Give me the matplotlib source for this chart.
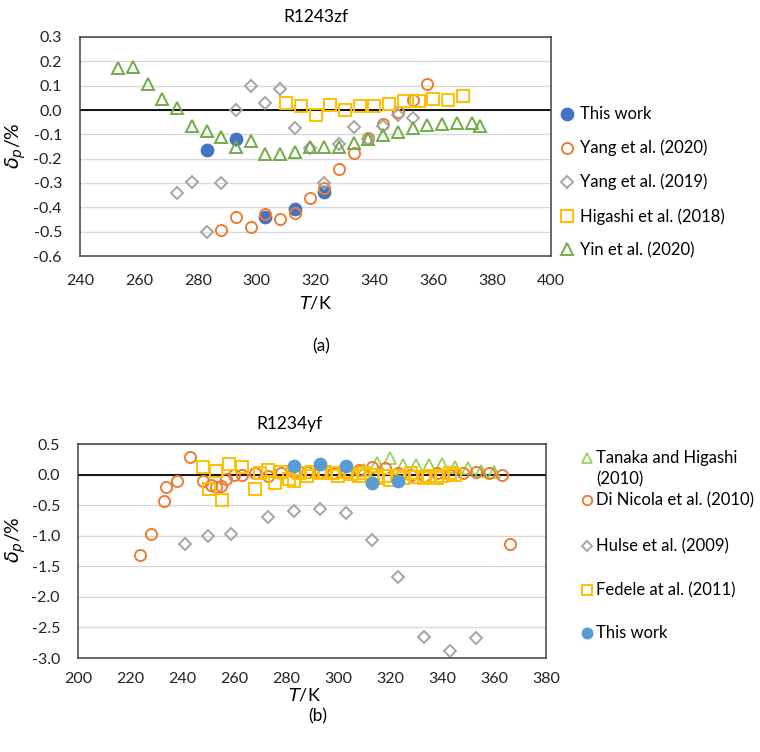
import numpy as np
import matplotlib
matplotlib.use('Agg')
import matplotlib.pyplot as plt
from matplotlib.lines import Line2D
from matplotlib.ticker import FormatStrFormatter, MultipleLocator

plt.rcParams['font.family'] = ['Lato', 'DejaVu Sans']
plt.rcParams['axes.unicode_minus'] = False
plt.rcParams['mathtext.fontset'] = 'dejavusans'

# ---- (a) R1243zf ----
a_this_T = [283, 293, 303, 313, 323]
a_this_d = [-0.163, -0.118, -0.44, -0.408, -0.338]

a_yang20_T = [288, 293, 298, 303, 308, 313, 318, 323, 328, 333, 338, 343, 348, 353, 358]
a_yang20_d = [-0.494, -0.441, -0.481, -0.428, -0.448, -0.425, -0.36, -0.319, -0.243,
              -0.175, -0.115, -0.056, -0.01, 0.043, 0.105]

a_yang19_T = [273, 278, 283, 288, 293, 298, 303, 308, 313, 318, 323, 328, 333, 338, 343, 348, 353]
a_yang19_d = [-0.342, -0.295, -0.502, -0.302, 0.002, 0.098, 0.03, 0.085, -0.075, -0.156,
              -0.298, -0.14, -0.069, -0.12, -0.067, -0.019, -0.032]

a_higashi_T = [310, 315, 320, 325, 330, 335, 340, 345, 350, 355, 360, 365, 370]
a_higashi_d = [0.03, 0.016, -0.019, 0.019, 0.002, 0.016, 0.016, 0.023, 0.038, 0.039,
               0.046, 0.043, 0.057]

a_yin_T = [253, 258, 263, 268, 273, 278, 283, 288, 293, 298, 303, 308, 313, 318, 323,
           328, 333, 338, 343, 348, 353, 358, 363, 368, 373, 376]
a_yin_d = [0.171, 0.178, 0.105, 0.046, 0.01, -0.067, -0.088, -0.112, -0.15, -0.126, -0.18,
           -0.181, -0.174, -0.152, -0.152, -0.15, -0.136, -0.118, -0.101, -0.092, -0.076,
           -0.063, -0.057, -0.053, -0.053, -0.067]

# ---- (b) R1234yf ----
b_tanaka_T = [310, 315, 320, 325, 330, 335, 340, 345, 350, 355, 360]
b_tanaka_d = [0.08, 0.19, 0.27, 0.16, 0.16, 0.16, 0.18, 0.12, 0.10, 0.06, 0.04]

b_dinicola_T = [224, 228, 233, 234, 238, 243, 248, 251, 253, 255, 257, 260, 263, 268, 273,
                278, 283, 288, 293, 298, 303, 308, 313, 318, 323, 328, 333, 338, 343, 348,
                353, 358, 363, 366]
b_dinicola_d = [-1.31, -0.97, -0.44, -0.21, -0.10, 0.28, -0.10, -0.17, -0.21, -0.19, -0.08,
                -0.01, 0.00, 0.02, -0.02, 0.02, 0.05, 0.05, 0.05, 0.03, 0.05, 0.08, 0.13,
                0.10, 0.02, 0.00, -0.02, 0.02, -0.01, 0.02, 0.04, 0.02, -0.01, -1.13]

b_hulse_T = [241, 250, 259, 273, 283, 293, 303, 313, 323, 333, 343, 353]
b_hulse_d = [-1.13, -1.0, -0.97, -0.70, -0.59, -0.56, -0.63, -1.07, -1.67, -2.65, -2.88, -2.67]

b_fedele_T = [248, 250.5, 253, 255.5, 258, 263, 268, 270, 273, 275.8, 278, 281, 283, 285,
              288, 290, 293, 295, 298, 300, 303, 305, 308, 310, 313, 315, 318, 320, 323,
              325, 328, 330, 333, 335, 338, 340, 343, 345]
b_fedele_d = [0.13, -0.24, 0.06, -0.42, 0.17, 0.12, -0.23, 0.03, 0.08, -0.13, 0.05, -0.08,
              -0.11, 0.02, -0.03, 0.04, 0.02, 0.05, 0.03, -0.02, 0.04, 0.01, -0.02, 0.03,
              0.00, -0.05, -0.03, -0.09, -0.03, -0.06, 0.02, -0.04, -0.06, -0.03, -0.05,
              -0.02, 0.02, 0.00]

b_this_T = [283, 293, 303, 313, 323]
b_this_d = [0.145, 0.18, 0.145, -0.13, -0.10]

W, H = 760, 752
fig = plt.figure(figsize=(W / 100, H / 100), dpi=100)


def px_axes(l, t, r, b):
    return fig.add_axes([l / W, 1 - b / H, (r - l) / W, (b - t) / H])


def style_axes(ax, xlim, ylim, ystep, xstep, xpad):
    ax.set_xlim(*xlim)
    ax.set_ylim(*ylim)
    ax.yaxis.set_major_locator(MultipleLocator(ystep))
    ax.xaxis.set_major_locator(MultipleLocator(xstep))
    ax.yaxis.set_major_formatter(FormatStrFormatter('%.1f'))
    ax.grid(axis='y', color='#d9d9d9', lw=1)
    ax.set_axisbelow(True)
    ax.axhline(0, color='black', lw=1.3, zorder=1.5)
    ax.tick_params(length=0, labelsize=11.5, colors='#222222')
    ax.tick_params(axis='y', pad=13)
    ax.tick_params(axis='x', pad=xpad)
    for s in ax.spines.values():
        s.set_color('#404040')
        s.set_linewidth(1.1)


def mk(ax, x, y, marker, color, ms, label, filled=False, mew=1.4):
    ax.plot(x, y, ls='none', marker=marker, ms=ms, mew=mew, mec=color,
            mfc=color if filled else 'none', label=label)


# (a)
ax1 = px_axes(80, 37, 551, 256)
style_axes(ax1, (240, 400), (-0.6, 0.3), 0.1, 20, 13)
mk(ax1, a_this_T, a_this_d, 'o', '#4472c4', 8.5, 'This work', filled=True)
mk(ax1, a_yang20_T, a_yang20_d, 'o', '#ed7d31', 8, 'Yang et al. (2020)')
mk(ax1, a_yang19_T, a_yang19_d, 'D', '#a5a5a5', 6, 'Yang et al. (2019)')
mk(ax1, a_higashi_T, a_higashi_d, 's', '#ffc000', 8, 'Higashi et al. (2018)')
mk(ax1, a_yin_T, a_yin_d, '^', '#70ad47', 8.5, 'Yin et al. (2020)')
ax1.legend(loc='upper left', bbox_to_anchor=(552 / W, 1 - 98 / H),
           bbox_transform=fig.transFigure, frameon=False, fontsize=12,
           handlelength=0.8, handletextpad=0.4, labelspacing=1.05, borderpad=0)
fig.text(316 / W, 1 - 17 / H, 'R1243zf', ha='center', va='center', fontsize=12.5)
fig.text(316 / W, 1 - 303 / H, r'$T$/K', ha='center', va='center', fontsize=13)
fig.text(321 / W, 1 - 346 / H, '(a)', ha='center', va='center', fontsize=12.5)
fig.text(16 / W, 1 - 146 / H, r'$\delta_p$/%', ha='center', va='center',
         rotation=90, fontsize=14)

# (b)
ax2 = px_axes(78, 444, 546, 658)
style_axes(ax2, (200, 380), (-3.0, 0.5), 0.5, 20, 10)
mk(ax2, b_tanaka_T, b_tanaka_d, '^', '#92d050', 8.5, 'Tanaka and Higashi\n(2010)', mew=1.2)
mk(ax2, b_dinicola_T, b_dinicola_d, 'o', '#ed7d31', 8, 'Di Nicola et al. (2010)')
mk(ax2, b_hulse_T, b_hulse_d, 'D', '#a5a5a5', 6, 'Hulse et al. (2009)')
mk(ax2, b_fedele_T, b_fedele_d, 's', '#ffc000', 8, 'Fedele at al. (2011)')
mk(ax2, b_this_T, b_this_d, 'o', '#5b9bd5', 8.5, 'This work', filled=True)

# legend of (b), first line of each label next to its marker
leg_y = [458, 500, 546, 590, 633]
for line, ly in zip(ax2.get_lines()[1:], leg_y):
    fig.add_artist(Line2D([587 / W], [1 - ly / H], transform=fig.transFigure,
                          ls='none', marker=line.get_marker(),
                          ms=line.get_markersize() * 0.85, mew=line.get_markeredgewidth(),
                          mec=line.get_markeredgecolor(), mfc=line.get_markerfacecolor()))
    for i, part in enumerate(line.get_label().split('\n')):
        fig.text(596 / W, 1 - (ly + 5 + 21 * i) / H, part, ha='left', va='baseline',
                 fontsize=12)

fig.text(290 / W, 1 - 424 / H, 'R1234yf', ha='center', va='center', fontsize=12.5)
fig.text(305 / W, 1 - 695 / H, r'$T$/K', ha='center', va='center', fontsize=13)
fig.text(318 / W, 1 - 716 / H, '(b)', ha='center', va='center', fontsize=12.5)
fig.text(16 / W, 1 - 540 / H, r'$\delta_p$/%', ha='center', va='center',
         rotation=90, fontsize=14)

fig.savefig('out.png', dpi=100)
